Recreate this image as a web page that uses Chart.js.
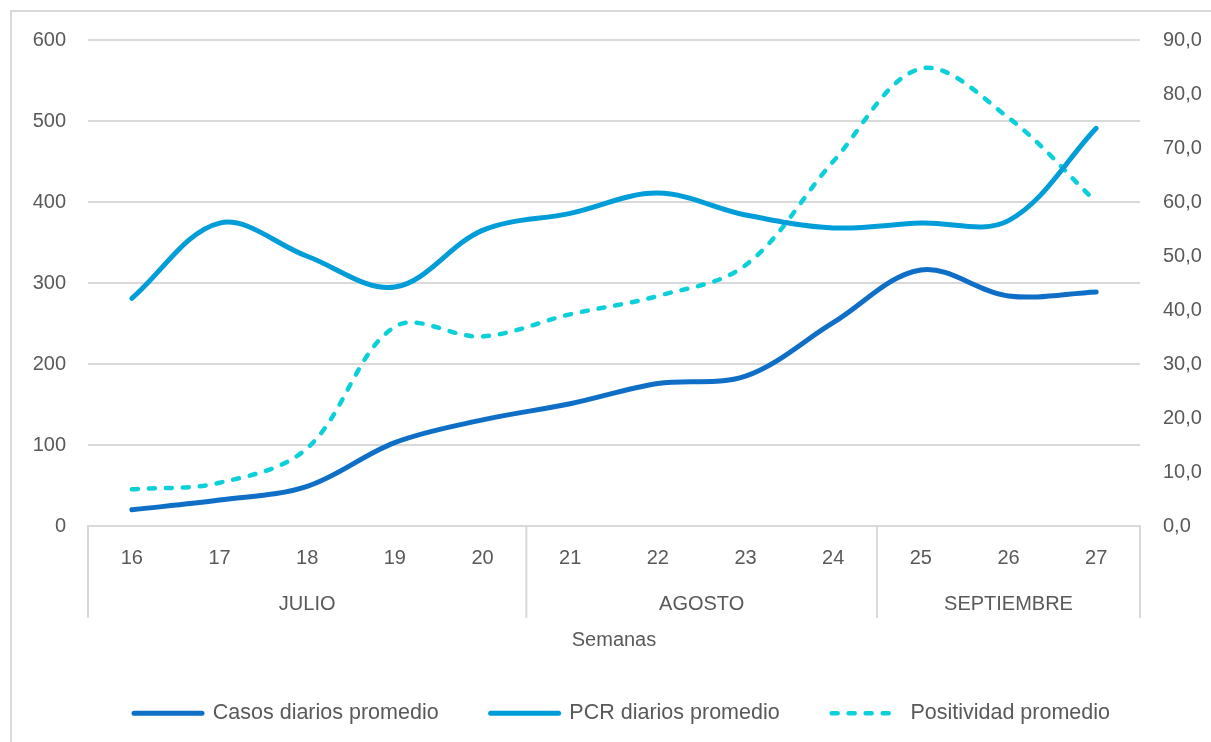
<!DOCTYPE html>
<html>
<head>
<meta charset="utf-8">
<script src="https://cdn.jsdelivr.net/npm/chart.js@4"></script>
<style>
  html, body { margin: 0; padding: 0; background: #fff; }
  #wrap { width: 1211px; height: 742px; position: relative; }
</style>
</head>
<body>
<div id="wrap"><canvas id="chart"></canvas></div>
<script>
// ── Data ─────────────────────────────────────────────
const weeks      = ["16","17","18","19","20","21","22","23","24","25","26","27"];
const months     = ["JULIO", "AGOSTO", "SEPTIEMBRE"];
const monthSpans = [5, 4, 3];
const casos      = [20, 32, 49, 103, 131, 151, 176, 185, 251, 316, 284, 289];
const pcr        = [281, 374, 333, 295, 365, 386, 411, 384, 368, 374, 377, 491];
const positiv    = [6.8, 8.0, 14.4, 36.9, 35.1, 39.2, 42.6, 48.3, 67.5, 84.7, 75.6, 60.0];
const leftTicks  = [0, 100, 200, 300, 400, 500, 600];
const rightTicks = [0, 10, 20, 30, 40, 50, 60, 70, 80, 90];

const FONT = "'Liberation Sans', Arial, sans-serif";
const TXT  = "#595959";
const GRID = "#d9d9d9";

// ── Multi-level category axis + frame ────────────────
const groupAxis = {
  id: "groupAxis",
  afterDraw(chart) {
    const { ctx, chartArea } = chart;
    const x = chart.scales.x;
    const half = (x.getPixelForTick(1) - x.getPixelForTick(0)) / 2;
    const bottom = chartArea.bottom;

    ctx.save();
    ctx.strokeStyle = GRID;
    ctx.lineWidth = 2;
    // chart frame (top + left visible)
    ctx.beginPath();
    ctx.moveTo(11, 1000); ctx.lineTo(11, 11); ctx.lineTo(1300, 11);
    ctx.stroke();

    // group separators + labels
    ctx.font = "20px " + FONT;
    ctx.fillStyle = TXT;
    ctx.textAlign = "center";
    ctx.textBaseline = "middle";
    let idx = 0;
    const edges = [x.getPixelForTick(0) - half];
    months.forEach((m, k) => {
      const start = x.getPixelForTick(idx) - half;
      idx += monthSpans[k];
      const end = x.getPixelForTick(idx - 1) + half;
      edges.push(end);
      ctx.fillText(m, (start + end) / 2, bottom + 78);
    });
    ctx.beginPath();
    edges.forEach(e => { ctx.moveTo(e, bottom); ctx.lineTo(e, bottom + 92); });
    ctx.stroke();

    ctx.fillText("Semanas", (chartArea.left + chartArea.right) / 2, bottom + 114);
    ctx.restore();
  }
};

new Chart(document.getElementById("chart"), {
  type: "line",
  data: {
    labels: weeks,
    datasets: [
      { label: "Casos diarios promedio", data: casos, yAxisID: "y",
        borderColor: "#0F6FC6", backgroundColor: "#0F6FC6", borderWidth: 5,
        borderCapStyle: "round", tension: 0.35, pointRadius: 0 },
      { label: "PCR diarios promedio", data: pcr, yAxisID: "y",
        borderColor: "#009DD9", backgroundColor: "#009DD9", borderWidth: 5,
        borderCapStyle: "round", tension: 0.35, pointRadius: 0 },
      { label: "Positividad promedio", data: positiv, yAxisID: "y1",
        borderColor: "#0BD0D9", backgroundColor: "#0BD0D9", borderWidth: 4.5,
        borderDash: [6, 11], borderCapStyle: "round", tension: 0.35, pointRadius: 0 },
    ],
  },
  options: {
    responsive: true, maintainAspectRatio: false,
    animation: false,
    layout: { padding: { top: 40, bottom: 8, left: 33, right: 0 } },
    plugins: {
      tooltip: { enabled: false },
      legend: {
        position: "bottom",
        labels: {
          usePointStyle: true, pointStyle: "line", pointStyleWidth: 68,
          color: TXT, font: { family: FONT, size: 21.5 }, padding: 52,
          generateLabels: chart =>
            Chart.defaults.plugins.legend.labels.generateLabels(chart).map(item => {
              const ds = chart.data.datasets[item.datasetIndex];
              item.lineDash = ds.borderDash || [];
              item.lineCap = "round";
              item.lineWidth = ds.borderWidth;
              item.strokeStyle = ds.borderColor;
              return item;
            }),
        },
      },
    },
    scales: {
      x: {
        offset: true,
        grid: { display: false, drawTicks: false },
        border: { display: true, color: GRID, width: 2 },
        ticks: { color: TXT, font: { family: FONT, size: 20 }, padding: 20, maxRotation: 0 },
        afterFit: s => { s.height = 124.5; },
      },
      y: {
        position: "left", min: 0, max: 600,
        afterBuildTicks: s => { s.ticks = leftTicks.map(v => ({ value: v })); },
        grid: { color: GRID, lineWidth: 2, drawTicks: false },
        border: { display: false },
        ticks: { color: TXT, font: { family: FONT, size: 20 }, padding: 22 },
        afterFit: s => { s.width = 55; },
      },
      y1: {
        position: "right", min: 0, max: 90,
        afterBuildTicks: s => { s.ticks = rightTicks.map(v => ({ value: v })); },
        grid: { drawOnChartArea: false, drawTicks: false },
        border: { display: false },
        ticks: { color: TXT, font: { family: FONT, size: 20 }, padding: 23,
                 callback: v => v.toFixed(1).replace(".", ",") },
        afterFit: s => { s.width = 71; },
      },
    },
  },
  plugins: [groupAxis],
});
</script>
</body>
</html>
